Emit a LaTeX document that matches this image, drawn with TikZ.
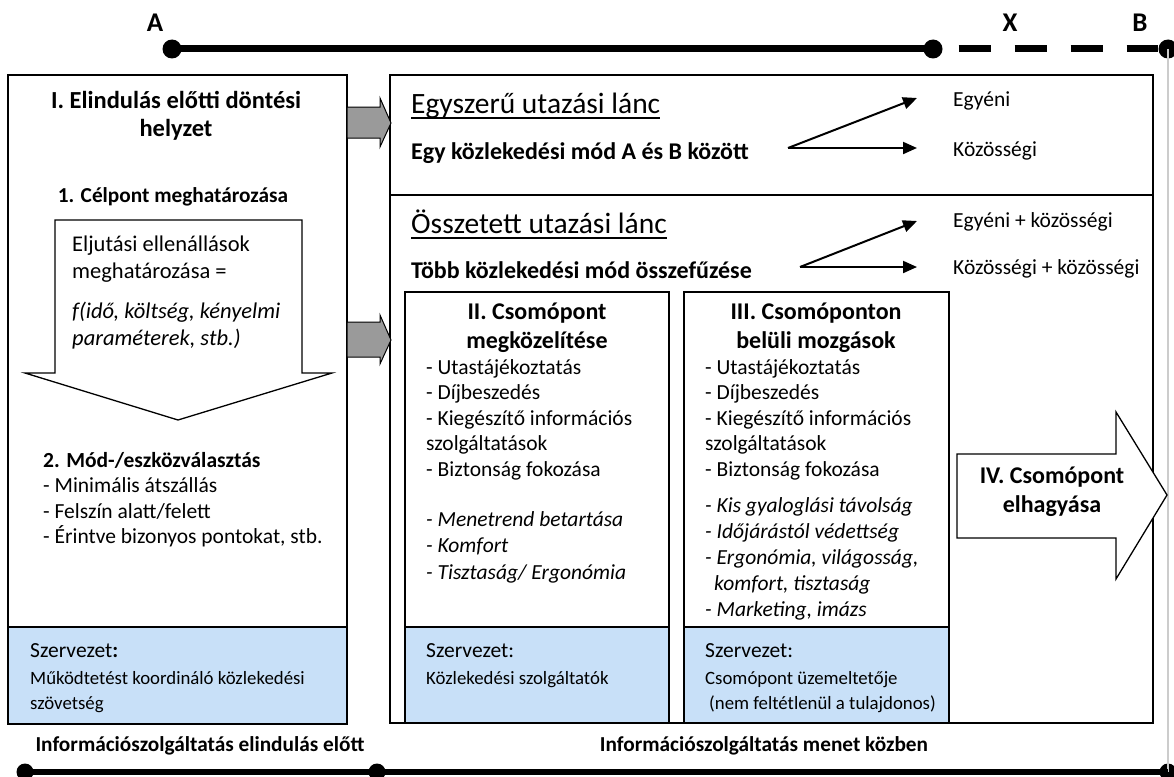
\documentclass[tikz,border=0pt]{standalone}
\usepackage{fontspec}
\setmainfont{Carlito}
\usetikzlibrary{positioning,arrows.meta,calc}
\definecolor{orgblue}{HTML}{C8E0F8}
\definecolor{pushgray}{HTML}{9A9A9A}
\definecolor{railgray}{HTML}{CCCCCC}
\newcommand{\fbody}{\fontsize{21.5}{25.5}\selectfont}
\newcommand{\fsmall}{\fontsize{18.8}{25}\selectfont}
\newcommand{\fhead}{\fontsize{24}{29}\selectfont\bfseries}

\begin{document}
\begin{tikzpicture}[x=1pt, y=-1pt,
  panel/.style={draw, line width=1.8pt, anchor=north west, inner sep=0pt, outer sep=0pt},
  orgpanel/.style={panel, fill=orgblue},
  txt/.style={inner sep=0pt, align=left, anchor=north west, font=\fbody},
  lbl/.style={inner sep=0pt, anchor=base west, font=\fbody},
  hd/.style={inner sep=0pt, align=center, anchor=north, font=\fhead},
  stop/.style={circle, fill=black, inner sep=0pt, minimum size=19pt},
  arr/.style={-{Triangle[length=14pt, width=12pt]}, line width=2pt},
  push/.style={draw, line width=1pt, fill=pushgray},
  bigarrow/.style={draw, line width=1.3pt, fill=white}]

\useasboundingbox (0,0) rectangle (1174,776);

% panels
\node[panel, minimum width=339pt, minimum height=649pt] (pre) at (8,75) {};
\node[orgpanel, minimum width=339pt, minimum height=97pt] (preorg) at (8,627) {};
\node[panel, minimum width=763pt, minimum height=648pt] (trip) at (390,75) {};
\node[panel, minimum width=763pt, minimum height=120pt] (simple) at (390,75) {};
\node[panel, minimum width=264pt, minimum height=431pt] (approach) at (405,292) {};
\node[orgpanel, minimum width=264pt, minimum height=96pt] (approachorg) at (405,627) {};
\node[panel, minimum width=265pt, minimum height=431pt] (inside) at (684,292) {};
\node[orgpanel, minimum width=265pt, minimum height=96pt] (insideorg) at (684,627) {};

% route A - X - B
\node[stop] (a) at (172,49) {};
\node[stop] (x) at (933,49) {};
\node[stop] (b) at (1168,49) {};
\node[stop, minimum size=17pt] (s) at (25,772) {};
\node[stop, minimum size=17pt] (m) at (377,772) {};
\node[stop, minimum size=17pt] (e) at (1168,772) {};
\draw[railgray, line width=1.5pt] (b.center) -- (e.center);
\draw[line width=7pt] (a.center) -- (x.center);
\draw[line width=7pt, dash pattern=on 32pt off 24pt, dash phase=40pt] (x) -- (b);
\draw[line width=5.5pt] (s.center) -- (e.center);
\node[font=\fontsize{27}{27}\selectfont\bfseries, anchor=base] (la) at (155,32) {A};
\node[font=\fontsize{27}{27}\selectfont\bfseries, anchor=base] (lx) at (1010,32) {X};
\node[font=\fontsize{27}{27}\selectfont\bfseries, anchor=base] (lb) at (1140,32) {B};

% I. before departure
\node[hd, font=\fontsize{24.5}{28}\selectfont\bfseries] (pretitle) at (176,91) {I. Elindulás előtti döntési\\helyzet};
\node[font=\fontsize{21.3}{25}\selectfont\bfseries, inner sep=0pt, anchor=base] (goal) at (173,202) {1. Célpont meghatározása};
\draw[bigarrow] (55,220) -- (302,220) -- (302,373) -- (332,373) -- (178,420) -- (25,373) -- (55,373) -- cycle;
\node[txt, font=\fontsize{22.5}{27}\selectfont] (resist) at (72,236) {Eljutási ellenállások\\meghatározása =};
\node[txt, font=\fontsize{22.5}{27}\selectfont\itshape] (func) at (72,302) {f(idő, költség, kényelmi\\paraméterek, stb.)};
\node[txt] (mode) at (43,452) {\textbf{2. Mód-/eszközválasztás}\\- Minimális átszállás\\- Felszín alatt/felett\\- Érintve bizonyos pontokat, stb.};
\node[lbl] (preorgtitle) at (30,657) {Szervezet\textbf{:}};
\node[txt, font=\fsmall] (preorgtext) at (30,671) {Működtetést koordináló közlekedési\\szövetség};

% push arrows
\draw[push] (347,107) -- (380,107) -- (380,98) -- (391,123) -- (380,147) -- (380,138) -- (347,138) -- cycle;
\draw[push] (347,322) -- (380,322) -- (380,315) -- (391,340) -- (380,364) -- (380,357) -- (347,357) -- cycle;

% simple chain
\node[lbl, font=\fontsize{29.5}{29.5}\selectfont] (simpletitle) at (411,113) {Egyszerű utazási lánc};
\draw[line width=1.6pt] ($(simpletitle.base west)+(0,5)$) -- ($(simpletitle.base east)+(0,5)$);
\node[lbl, font=\fontsize{24}{24}\selectfont\bfseries] (simpletext) at (411,159) {Egy közlekedési mód A és B között};
\node[lbl] (single) at (953,106) {Egyéni};
\node[lbl] (public) at (953,156) {Közösségi};
\coordinate (fork1) at (788,148);
\coordinate (tip1) at (917,98);
\coordinate (tip2) at (917,148);
\draw[arr] (fork1) -- (tip1);
\draw[arr] (fork1) -- (tip2);

% compound chain
\node[lbl, font=\fontsize{29.5}{29.5}\selectfont] (compoundtitle) at (411,233) {Összetett utazási lánc};
\draw[line width=1.6pt] ($(compoundtitle.base west)+(0,5)$) -- ($(compoundtitle.base east)+(0,5)$);
\node[lbl, font=\fontsize{24}{24}\selectfont\bfseries] (compoundtext) at (411,278) {Több közlekedési mód összefűzése};
\node[lbl] (mixed) at (953,227) {Egyéni + közösségi};
\node[lbl] (publics) at (953,274) {Közösségi + közösségi};
\coordinate (fork2) at (800,267);
\coordinate (tip3) at (917,221);
\coordinate (tip4) at (917,267);
\draw[arr] (fork2) -- (tip3);
\draw[arr] (fork2) -- (tip4);

% II. approach
\node[hd] (approachtitle) at (537,303) {II. Csomópont\\megközelítése};
\node[txt] (approachlist) at (426,359) {- Utastájékoztatás\\- Díjbeszedés\\- Kiegészítő információs\\szolgáltatások\\- Biztonság fokozása};
\node[txt, font=\fontsize{21.5}{26.5}\selectfont\itshape] (approachqual) at (426,511) {- Menetrend betartása\\- Komfort\\- Tisztaság/ Ergonómia};
\node[lbl] (approachorgtitle) at (426,657) {Szervezet:};
\node[lbl, font=\fsmall] (approachorgtext) at (426,684) {Közlekedési szolgáltatók};

% III. inside
\node[hd] (insidetitle) at (816,303) {III. Csomóponton\\belüli mozgások};
\node[txt] (insidelist) at (705,359) {- Utastájékoztatás\\- Díjbeszedés\\- Kiegészítő információs\\szolgáltatások\\- Biztonság fokozása};
\node[txt, font=\fontsize{21.5}{26.2}\selectfont\itshape] (insidequal) at (705,497) {- Kis gyaloglási távolság\\- Időjárástól védettség\\- Ergonómia, világosság,\\\hspace{9pt}komfort, tisztaság\\- Marketing, imázs};
\node[lbl] (insideorgtitle) at (705,657) {Szervezet:};
\node[txt, font=\fsmall] (insideorgtext) at (705,671) {Csomópont üzemeltetője\\\hspace{4pt}(nem feltétlenül a tulajdonos)};

% IV. leaving
\draw[bigarrow] (957,454) -- (1116,454) -- (1116,412) -- (1167,495) -- (1116,579) -- (1116,538) -- (957,538) -- cycle;
\node[hd] (leave) at (1052,467) {IV. Csomópont\\elhagyása};

% information
\node[font=\fontsize{21.3}{25}\selectfont\bfseries, inner sep=0pt, anchor=base] (infopre) at (200,751) {Információszolgáltatás elindulás előtt};
\node[font=\fontsize{21.3}{25}\selectfont\bfseries, inner sep=0pt, anchor=base] (infoon) at (764,751) {Információszolgáltatás menet közben};
\end{tikzpicture}
\end{document}
